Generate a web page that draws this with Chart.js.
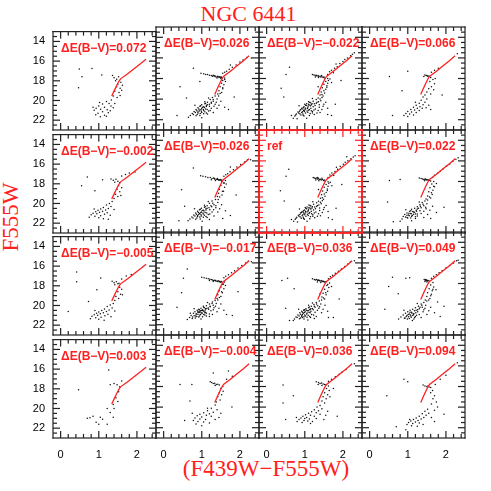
<!DOCTYPE html>
<html>
<head>
<meta charset="utf-8">
<script src="https://cdn.jsdelivr.net/npm/chart.js@4.4.0/dist/chart.umd.min.js"></script>
<style>
  body { margin: 0; background: #fff; width: 491px; height: 491px; position: relative; overflow: hidden; }
  canvas { position: absolute; }
  .t { position: absolute; color: #ff2020; font-family: "Liberation Serif", "Times New Roman", serif; white-space: nowrap; }
</style>
</head>
<body>
<div class="t" style="left:0;width:497px;top:3px;font-size:22px;line-height:22px;text-align:center">NGC 6441</div>
<div class="t" style="left:0;width:532px;top:457px;font-size:23px;line-height:23px;text-align:center">(F439W&minus;F555W)</div>
<div class="t" style="left:10px;top:217px;font-size:23px;line-height:23px;transform:translate(-50%,-50%) rotate(-90deg)">F555W</div>
<script>
// panel labels, row by row
const panelLabels = [
  'ΔE(B−V)=0.072', 'ΔE(B−V)=0.026', 'ΔE(B−V)=−0.022', 'ΔE(B−V)=0.066',
  'ΔE(B−V)=−0.002', 'ΔE(B−V)=0.026', 'ref', 'ΔE(B−V)=0.022',
  'ΔE(B−V)=−0.005', 'ΔE(B−V)=−0.017', 'ΔE(B−V)=0.036', 'ΔE(B−V)=0.049',
  'ΔE(B−V)=0.003', 'ΔE(B−V)=−0.004', 'ΔE(B−V)=0.036', 'ΔE(B−V)=0.094'
];
const yTickLabels = [14, 16, 18, 20, 22];
const xTickLabels = [0, 1, 2];

// red fiducial line (colour, magnitude)
const fidColor = [1.34, 1.40, 1.46, 1.52, 1.57, 1.75, 1.95, 2.10, 2.24];
const fidMag   = [19.55, 19.05, 18.55, 18.10, 17.80, 17.30, 16.70, 16.25, 15.80];

// stars per panel: [F439W-F555W, F555W]
const starsR1C1 = [[0.49,16.8],[0.82,16.75],[0.56,17.6],[0.47,18.7],[1.08,17.4],
  [1.36,17.45],[1.4,17.7],[1.47,17.85],[1.52,17.6],[1.44,18.0],[1.58,18.15],[1.5,18.35],[1.62,18.45],[1.47,18.6],[1.56,18.75],[1.42,19.05],[1.53,19.2],[1.6,18.95],[1.38,19.55],[1.48,19.7],[1.33,19.95],[1.56,19.5],
  [1.2,20.1],[1.27,20.3],[1.1,20.35],[1.32,20.55],[1.0,20.55],[1.15,20.7],[0.93,20.8],[1.05,20.9],[1.22,20.95],[1.3,21.05],[0.88,21.0],[1.1,21.15],[0.98,21.3],[1.25,21.25],[0.92,21.45],[1.15,21.5],[1.38,20.75],[1.42,20.3],[1.04,21.65],[1.2,21.6],[0.85,20.7],[1.02,20.2]];
const starsR1C2 = [[0.78,17.0],[0.43,18.8],[0.6,19.9],[1.75,16.7],[2.3,16.0],[0.95,18.3],[1.85,19.8],[0.35,21.6],[1.7,21.0],
  [0.98,17.5],[1.05,17.55],[1.1,17.6],[1.15,17.6],[1.2,17.68],[1.25,17.72],[1.28,17.78],[1.32,17.75],[1.35,17.8],[1.38,17.85],[1.42,17.82],[1.45,17.88],[1.48,17.9],[1.5,17.85],[1.53,17.92],[1.4,17.95],[1.3,17.68],
  [1.55,17.5],[1.6,17.4],[1.65,17.3],[1.72,17.1],[1.8,16.9],[1.9,16.7],[2.0,16.4],[2.08,16.2],[2.18,15.95],[1.6,17.95],[1.55,18.2],[1.52,18.45],[1.58,18.6],[1.48,18.8],[1.55,19.0],[1.45,19.2],[1.52,19.35],[1.42,19.5],[1.62,18.3],[1.5,18.0],
  [1.35,19.7],[1.28,19.85],[1.4,20.0],[1.22,20.05],[1.3,20.2],[1.15,20.3],[1.25,20.4],[1.08,20.45],[1.35,20.5],[1.0,20.55],[1.12,20.6],[1.2,20.7],[0.95,20.7],[1.05,20.75],[0.9,20.85],[1.0,20.9],[1.1,20.95],[1.25,20.9],[0.85,21.0],[0.95,21.05],[1.05,21.1],[1.18,21.15],[0.8,21.2],[0.9,21.25],[1.0,21.3],[1.12,21.35],[0.75,21.4],[0.88,21.5],[1.3,21.3],[0.7,21.6],[0.95,21.6],[1.45,20.6],[1.5,20.2],[1.4,20.9],[0.82,20.6],[1.18,19.9],[1.6,20.8],[0.65,21.75],[1.0,21.8],[1.08,20.25],
  [0.97,20.65],[1.02,20.78],[1.07,20.82],[1.12,20.72],[0.92,20.95],[0.98,21.0],[1.04,21.02],[1.14,21.0],[0.87,21.12],[0.93,21.15],[0.99,21.18],[1.08,21.22],[0.83,21.3],[0.9,21.35],[0.96,21.4],[1.05,21.42],[1.2,20.5],[1.25,20.3],[1.3,20.05],[1.15,20.55],[1.1,20.4],[0.78,21.5],[0.85,21.62],[1.15,21.45],[1.22,21.1],[1.32,20.7],[1.38,20.3],[1.44,19.7],[1.48,19.45],[1.55,18.9],[1.6,18.1],[1.42,17.78],[1.46,17.83],[1.51,17.88],[1.34,17.74]];
const starsR1C3 = [[0.51,17.6],[0.38,18.95],[0.65,21.6],[0.6,16.9],[0.45,19.8],[2.3,15.5],[1.95,18.2],[1.8,20.5],[1.7,21.6],
  [1.2,17.6],[1.24,17.65],[1.27,17.7],[1.3,17.68],[1.32,17.75],[1.35,17.72],[1.37,17.8],[1.4,17.78],[1.42,17.85],[1.45,17.82],[1.48,17.9],[1.5,17.86],[1.28,17.85],[1.36,17.9],[1.44,17.7],[1.52,17.95],
  [1.6,17.6],[1.65,17.35],[1.7,17.2],[1.78,17.0],[1.85,16.85],[1.82,16.6],[1.92,16.55],[2.0,16.35],[2.05,16.15],[2.12,16.0],[2.2,15.8],[2.25,15.65],[1.75,17.45],[1.6,18.0],[1.55,18.3],[1.62,18.2],[1.5,18.55],[1.58,18.7],[1.46,18.9],[1.55,19.05],[1.43,19.3],[1.52,19.4],[1.4,19.6],[1.48,19.7],[1.7,18.4],[1.35,18.8],
  [1.35,19.9],[1.3,20.05],[1.42,20.15],[1.22,20.2],[1.32,20.3],[1.15,20.35],[1.25,20.45],[1.1,20.5],[1.38,20.55],[1.02,20.6],[1.15,20.65],[1.22,20.75],[0.98,20.75],[1.08,20.8],[0.92,20.9],[1.02,20.95],[1.12,21.0],[1.28,20.95],[0.88,21.05],[0.97,21.1],[1.06,21.15],[1.2,21.2],[0.82,21.25],[0.92,21.3],[1.02,21.35],[1.14,21.4],[0.78,21.45],[0.9,21.55],[1.32,21.35],[0.74,21.65],[0.98,21.65],[1.48,20.7],[1.55,20.3],[1.45,21.0],[0.85,20.65],[1.2,19.95],[1.6,20.9],[0.7,21.85],[1.05,21.85],[1.1,20.25],[1.18,20.55],[1.05,20.45],[0.95,21.45],[1.25,21.5],[1.4,21.3],[0.8,21.9],[1.6,21.5],
  [1.0,20.5],[1.04,20.62],[1.09,20.68],[1.13,20.58],[0.96,20.82],[1.01,20.86],[1.07,20.92],[1.16,20.88],[0.9,21.0],[0.95,20.97],[1.0,21.05],[1.1,21.08],[1.17,21.12],[0.86,21.18],[0.94,21.22],[0.99,21.2],[1.08,21.27],[1.24,21.05],[1.27,20.62],[1.3,20.4],[1.36,20.25],[1.4,20.0],[1.45,19.85],[1.19,20.42],[1.13,20.3],[0.84,21.35],[0.87,21.42],[0.96,21.57],[1.12,21.6],[1.2,21.35],[0.76,21.55],[1.35,21.1],[1.5,20.5],[1.38,20.8],[1.45,19.55],[1.5,19.2],[1.58,18.85],[1.6,18.45],[1.66,18.05]];
const starsR1C4 = [[0.52,17.8],[0.6,21.6],[0.85,19.2],[1.0,17.3],[2.3,15.6],[1.9,19.6],
  [1.45,17.65],[1.48,17.72],[1.5,17.7],[1.52,17.78],[1.55,17.75],[1.42,17.8],
  [1.62,17.4],[1.7,17.2],[1.8,17.0],[1.6,17.9],[1.66,18.1],[1.58,18.3],[1.7,18.5],[1.62,18.8],[1.55,19.0],[1.68,19.1],[1.5,19.3],[1.6,19.5],[1.72,18.0],[1.45,19.6],
  [1.4,19.8],[1.5,20.0],[1.35,20.1],[1.45,20.3],[1.3,20.4],[1.4,20.55],[1.22,20.6],[1.32,20.75],[1.15,20.8],[1.25,20.9],[1.08,21.0],[1.18,21.05],[1.3,21.1],[1.0,21.2],[1.1,21.25],[1.22,21.3],[0.95,21.4],[1.05,21.45],[1.15,21.55],[0.9,21.6],[1.38,20.9],[1.55,20.6],[1.6,21.0],[1.48,20.85],[1.2,20.3],[1.0,21.7]];
const starsR2C1 = [[0.70,17.3],[0.9,18.7],[0.55,18.2],[1.1,17.6],
  [1.32,17.5],[1.38,17.65],[1.45,17.55],[1.5,17.75],[1.42,17.85],[1.55,17.9],[1.6,17.2],[1.7,17.05],[1.8,16.9],[1.95,16.8],[1.52,18.2],[1.6,18.4],[1.48,18.55],[1.55,18.8],[1.44,19.05],[1.5,19.3],[1.4,19.5],[1.58,19.2],
  [1.35,19.8],[1.28,20.0],[1.2,20.15],[1.32,20.3],[1.12,20.4],[1.25,20.5],[1.05,20.55],[1.18,20.65],[0.98,20.7],[1.1,20.8],[0.92,20.85],[1.02,20.9],[1.22,20.95],[0.85,21.0],[0.95,21.05],[1.15,21.1],[0.8,21.15],[1.05,21.25],[0.9,21.3],[1.3,21.2],[0.75,21.4],[1.0,21.45],[1.12,21.55],[1.4,20.6],[0.88,20.55],[1.25,21.6]];
const starsR2C2 = [[0.47,18.8],[0.78,16.7],[1.75,16.6],[0.55,20.4],[2.28,15.9],[1.9,19.3],[0.4,21.8],[1.75,21.3],
  [0.97,17.45],[1.03,17.5],[1.1,17.55],[1.16,17.6],[1.22,17.62],[1.27,17.7],[1.31,17.66],[1.34,17.75],[1.38,17.78],[1.41,17.72],[1.44,17.82],[1.47,17.85],[1.5,17.8],[1.53,17.88],[1.36,17.9],[1.25,17.82],
  [1.58,17.5],[1.63,17.35],[1.68,17.25],[1.74,17.05],[1.83,16.85],[1.92,16.6],[2.02,16.35],[2.12,16.1],[2.2,15.9],[1.62,17.9],[1.57,18.15],[1.5,18.4],[1.6,18.55],[1.46,18.75],[1.57,18.95],[1.44,19.15],[1.53,19.3],[1.41,19.45],[1.64,18.25],[1.52,17.98],
  [1.36,19.75],[1.27,19.9],[1.42,20.05],[1.2,20.1],[1.32,20.25],[1.14,20.35],[1.26,20.45],[1.07,20.5],[1.37,20.55],[0.99,20.6],[1.11,20.65],[1.21,20.75],[0.94,20.75],[1.04,20.8],[0.89,20.9],[0.99,20.95],[1.09,21.0],[1.27,20.95],[0.84,21.05],[0.94,21.1],[1.04,21.15],[1.17,21.2],[0.79,21.25],[0.89,21.3],[0.99,21.35],[1.11,21.4],[0.74,21.45],[0.87,21.55],[1.32,21.35],[0.69,21.65],[0.96,21.65],[1.47,20.65],[1.52,20.25],[1.42,20.95],[0.81,20.65],[1.17,19.95],[1.62,20.85],[0.64,21.8],[1.01,21.85],[1.07,20.3],[1.55,21.6],[1.2,21.7],
  [0.96,20.7],[1.01,20.82],[1.06,20.86],[1.11,20.77],[0.91,21.0],[0.97,21.04],[1.03,21.07],[1.13,21.05],[0.86,21.17],[0.92,21.2],[0.98,21.23],[1.07,21.27],[0.82,21.35],[0.89,21.4],[0.95,21.45],[1.04,21.47],[1.19,20.55],[1.24,20.35],[1.29,20.1],[1.14,20.6],[1.09,20.45],[0.77,21.55],[0.84,21.67],[1.14,21.5],[1.21,21.15],[1.31,20.75],[1.37,20.35],[1.43,19.75],[1.47,19.5],[1.54,18.95],[1.59,18.15],[1.41,17.8],[1.45,17.85],[1.49,17.86],[1.33,17.72]];
const starsR2C3 = [[0.51,17.5],[0.36,18.9],[0.65,21.7],[0.58,16.8],[0.46,19.9],[2.32,15.5],[1.97,18.3],[1.82,20.6],[1.72,21.7],[2.1,15.6],
  [1.22,17.62],[1.25,17.66],[1.28,17.72],[1.31,17.67],[1.33,17.76],[1.36,17.71],[1.38,17.81],[1.41,17.77],[1.43,17.86],[1.46,17.81],[1.49,17.91],[1.51,17.85],[1.29,17.86],[1.37,17.92],[1.45,17.69],[1.53,17.96],[1.34,17.6],
  [1.61,17.6],[1.66,17.36],[1.71,17.18],[1.79,17.02],[1.86,16.82],[1.83,16.62],[1.93,16.52],[2.01,16.33],[2.06,16.13],[2.13,15.98],[2.21,15.78],[2.27,15.62],[1.76,17.42],[1.61,18.02],[1.56,18.28],[1.63,18.18],[1.51,18.57],[1.59,18.72],[1.47,18.92],[1.56,19.07],[1.44,19.28],[1.53,19.42],[1.41,19.62],[1.49,19.72],[1.71,18.42],[1.36,18.78],
  [1.36,19.92],[1.31,20.07],[1.43,20.17],[1.23,20.22],[1.33,20.32],[1.16,20.37],[1.26,20.47],[1.11,20.52],[1.39,20.57],[1.03,20.62],[1.16,20.67],[1.23,20.77],[0.99,20.77],[1.09,20.82],[0.93,20.92],[1.03,20.97],[1.13,21.02],[1.29,20.97],[0.89,21.07],[0.98,21.12],[1.07,21.17],[1.21,21.22],[0.83,21.27],[0.93,21.32],[1.03,21.37],[1.15,21.42],[0.79,21.47],[0.91,21.57],[1.33,21.37],[0.75,21.67],[0.99,21.67],[1.49,20.72],[1.56,20.32],[1.46,21.02],[0.86,20.67],[1.21,19.97],[1.61,20.92],[0.71,21.87],[1.06,21.87],[1.11,20.27],[1.19,20.57],[1.06,20.47],[0.96,21.47],[1.26,21.52],[1.41,21.32],[0.81,21.92],[1.62,21.52],
  [1.01,20.52],[1.05,20.64],[1.1,20.7],[1.14,20.6],[0.97,20.84],[1.02,20.88],[1.08,20.94],[1.17,20.9],[0.91,21.02],[0.96,20.99],[1.01,21.07],[1.11,21.1],[1.18,21.14],[0.87,21.2],[0.95,21.24],[1.0,21.22],[1.09,21.29],[1.25,21.07],[1.28,20.64],[1.31,20.42],[1.37,20.27],[1.41,20.02],[1.46,19.87],[1.2,20.44],[1.14,20.32],[0.85,21.37],[0.88,21.44],[0.97,21.59],[1.13,21.62],[1.21,21.37],[0.77,21.57],[1.36,21.12],[1.51,20.52],[1.39,20.82],[1.46,19.57],[1.51,19.22],[1.59,18.87],[1.61,18.47],[1.67,18.07]];
const starsR2C4 = [[0.52,17.9],[0.47,20.0],[0.8,17.8],[2.32,15.7],[1.95,20.5],[0.62,21.9],
  [1.35,17.7],[1.39,17.75],[1.42,17.8],[1.45,17.78],[1.48,17.85],[1.51,17.82],[1.54,17.9],[1.57,17.88],[1.6,17.95],[1.44,17.92],[1.3,17.65],
  [1.65,17.6],[1.7,17.4],[1.78,17.2],[1.85,17.0],[1.92,16.8],[2.02,16.5],[2.1,16.3],[2.18,16.05],[2.26,15.85],[1.68,18.0],[1.63,18.25],[1.7,18.5],[1.58,18.6],[1.66,18.85],[1.55,19.0],[1.64,19.25],[1.52,19.4],[1.6,19.6],[1.75,18.2],[1.48,19.7],
  [1.45,19.9],[1.38,20.05],[1.5,20.15],[1.32,20.25],[1.42,20.35],[1.25,20.45],[1.35,20.55],[1.18,20.6],[1.48,20.65],[1.1,20.7],[1.22,20.8],[1.32,20.85],[1.05,20.9],[1.15,20.95],[0.98,21.05],[1.08,21.1],[1.2,21.15],[1.35,21.1],[0.92,21.2],[1.02,21.25],[1.12,21.3],[1.25,21.35],[0.88,21.4],[0.98,21.5],[1.08,21.55],[1.2,21.6],[0.85,21.65],[1.58,20.8],[1.65,20.4],[1.52,21.2],[0.95,20.75],[1.3,20.0],[1.75,21.0],[0.8,21.85],[1.1,21.8],[1.6,21.6],[1.42,21.5],
  [1.08,20.85],[1.13,20.92],[1.18,20.98],[1.23,20.9],[1.03,21.08],[1.09,21.12],[1.15,21.18],[1.25,21.15],[0.98,21.28],[1.04,21.32],[1.1,21.38],[1.2,21.42],[0.94,21.45],[1.0,21.55],[1.28,20.6],[1.33,20.4],[1.4,20.2],[1.25,20.68],[1.42,20.9],[1.47,20.5],[1.52,19.8],[1.57,19.5],[1.62,19.1],[1.68,18.45],[1.5,17.8],[1.55,17.85],[1.46,17.75]];
const starsR3C1 = [[0.42,16.6],[0.42,17.6],[0.2,20.6],[0.73,19.6],[1.05,17.2],[0.95,18.4],
  [1.35,17.55],[1.4,17.7],[1.46,17.6],[1.5,17.8],[1.53,17.75],[1.42,17.9],[1.6,17.3],[1.72,17.0],[1.85,16.85],[1.55,18.15],[1.6,18.35],[1.5,18.6],[1.57,18.85],[1.45,19.1],[1.52,19.3],[1.42,19.5],[1.62,18.9],
  [1.38,19.8],[1.3,19.95],[1.22,20.1],[1.35,20.25],[1.15,20.35],[1.27,20.45],[1.08,20.5],[1.2,20.6],[1.0,20.65],[1.12,20.75],[0.94,20.8],[1.04,20.85],[1.24,20.9],[0.88,20.95],[0.97,21.0],[1.16,21.05],[0.82,21.1],[1.06,21.2],[0.92,21.25],[1.32,21.15],[0.78,21.35],[1.0,21.4],[1.14,21.5],[1.42,20.55],[0.9,20.5]];
const starsR3C2 = [[0.52,17.5],[0.47,18.9],[1.8,21.1],[0.35,20.3],[2.3,15.9],[0.62,16.6],[1.95,18.8],
  [1.0,17.4],[1.06,17.45],[1.12,17.5],[1.17,17.55],[1.21,17.58],[1.25,17.62],[1.28,17.66],[1.31,17.7],[1.34,17.68],[1.37,17.75],[1.4,17.78],[1.43,17.74],[1.46,17.82],[1.49,17.85],[1.52,17.8],[1.3,17.8],[1.2,17.7],
  [1.58,17.45],[1.63,17.3],[1.7,17.15],[1.78,16.95],[1.86,16.75],[1.95,16.5],[2.05,16.25],[2.15,16.0],[2.22,15.85],[1.6,17.85],[1.55,18.1],[1.5,18.35],[1.58,18.5],[1.46,18.7],[1.54,18.9],[1.42,19.1],[1.5,19.25],[1.4,19.45],[1.62,18.2],
  [1.35,19.65],[1.28,19.8],[1.38,19.95],[1.2,20.0],[1.3,20.1],[1.12,20.15],[1.22,20.25],[1.05,20.3],[1.32,20.35],[0.98,20.4],[1.1,20.45],[1.18,20.5],[0.92,20.5],[1.02,20.55],[0.88,20.6],[0.96,20.65],[1.06,20.7],[1.24,20.65],[0.82,20.75],[0.92,20.8],[1.0,20.85],[1.12,20.9],[0.78,20.9],[0.86,20.95],[0.96,21.0],[1.08,21.05],[0.72,21.1],[0.84,21.15],[1.28,21.0],[0.68,21.3],[0.92,21.25],[1.45,20.4],[1.5,20.0],[1.4,20.75],[0.8,20.45],[1.15,19.85],[1.58,20.6],[0.62,21.5],[0.98,21.45],[1.04,20.2],[0.95,20.75],[1.02,20.6],[0.9,20.7],[1.08,20.85],[0.75,21.4],[1.2,21.2],[1.65,21.0],[0.7,20.9],
  [0.94,20.55],[0.99,20.62],[1.04,20.66],[1.09,20.58],[0.9,20.78],[0.95,20.82],[1.01,20.88],[1.1,20.8],[0.85,20.95],[0.9,20.98],[0.97,21.02],[1.05,21.0],[0.8,21.12],[0.87,21.2],[0.94,21.15],[1.02,21.22],[1.17,20.38],[1.22,20.2],[1.27,19.95],[1.13,20.42],[1.07,20.35],[0.76,21.25],[0.83,21.35],[1.12,21.15],[1.2,20.95],[1.3,20.55],[1.36,20.2],[1.42,19.6],[1.46,19.35],[1.52,18.8],[1.57,18.05],[1.42,17.8],[1.47,17.78],[1.36,17.72],[1.5,17.88]];
const starsR3C3 = [[0.55,17.5],[0.4,17.7],[0.72,18.5],[0.5,20.4],[2.3,15.8],[1.9,19.5],[1.75,21.3],[0.6,21.6],
  [1.25,17.6],[1.28,17.65],[1.31,17.62],[1.34,17.7],[1.37,17.68],[1.4,17.75],[1.43,17.72],[1.46,17.8],[1.49,17.78],[1.52,17.85],[1.55,17.82],[1.33,17.85],[1.42,17.9],[1.2,17.55],
  [1.62,17.55],[1.67,17.35],[1.73,17.2],[1.8,17.0],[1.88,16.8],[1.96,16.6],[2.05,16.35],[2.13,16.1],[2.2,15.9],[1.65,17.95],[1.58,18.2],[1.63,18.4],[1.52,18.55],[1.6,18.75],[1.48,18.95],[1.56,19.1],[1.45,19.3],[1.52,19.5],[1.7,18.3],[1.4,19.0],
  [1.38,19.7],[1.3,19.85],[1.42,20.0],[1.24,20.05],[1.34,20.15],[1.17,20.2],[1.27,20.3],[1.1,20.35],[1.37,20.4],[1.03,20.45],[1.14,20.5],[1.22,20.55],[0.97,20.6],[1.07,20.65],[0.92,20.7],[1.01,20.75],[1.11,20.8],[1.27,20.8],[0.87,20.85],[0.96,20.9],[1.05,20.95],[1.18,21.0],[0.82,21.05],[0.92,21.1],[1.02,21.15],[1.13,21.2],[0.77,21.25],[0.89,21.35],[1.3,21.2],[0.73,21.45],[0.98,21.45],[1.48,20.5],[1.53,20.1],[1.44,20.85],[0.84,20.5],[1.2,19.9],[1.6,20.7],[0.7,21.6],[1.08,21.55],[1.1,20.1],[1.0,20.55],[1.16,20.7],[0.94,21.3],[1.25,21.4],[1.62,21.3],
  [0.99,20.55],[1.04,20.6],[1.09,20.62],[1.13,20.55],[0.94,20.78],[0.99,20.82],[1.06,20.86],[1.14,20.85],[0.89,20.98],[0.94,21.02],[1.0,21.06],[1.09,21.08],[0.85,21.15],[0.92,21.2],[0.98,21.22],[1.06,21.28],[1.2,20.42],[1.25,20.22],[1.31,20.0],[1.16,20.45],[1.12,20.28],[0.8,21.3],[0.86,21.42],[1.15,21.3],[1.23,21.05],[1.33,20.6],[1.39,20.25],[1.44,19.6],[1.49,19.4],[1.55,18.9],[1.6,18.1],[1.45,17.75],[1.5,17.82],[1.38,17.72],[1.35,17.65]];
const starsR3C4 = [[0.6,17.4],[0.95,17.5],[1.05,17.45],[0.5,18.3],[0.4,20.5],[2.32,15.75],[1.95,20.2],[1.85,21.2],[0.75,19.0],
  [1.43,17.6],[1.46,17.68],[1.49,17.65],[1.52,17.75],[1.55,17.72],[1.5,17.85],[1.45,17.8],
  [1.62,17.5],[1.68,17.3],[1.75,17.15],[1.82,16.95],[1.9,16.75],[2.0,16.5],[2.1,16.25],[2.2,16.0],[2.28,15.8],[1.66,17.9],[1.6,18.15],[1.68,18.35],[1.56,18.5],[1.64,18.7],[1.52,18.9],[1.62,19.05],[1.5,19.25],[1.58,19.45],[1.74,18.6],[1.46,19.6],
  [1.42,19.85],[1.35,20.0],[1.47,20.1],[1.28,20.2],[1.38,20.3],[1.2,20.35],[1.3,20.45],[1.13,20.5],[1.42,20.55],[1.06,20.6],[1.18,20.65],[1.26,20.75],[1.0,20.75],[1.1,20.8],[0.94,20.9],[1.04,20.95],[1.15,21.0],[1.3,21.0],[0.88,21.05],[0.98,21.1],[1.08,21.15],[1.2,21.2],[0.82,21.25],[0.93,21.35],[1.04,21.4],[1.16,21.45],[0.76,21.45],[1.55,20.65],[1.6,20.3],[1.5,21.0],[0.9,20.6],[1.25,19.95],[1.7,20.85],[1.12,21.6],[1.78,19.8],[1.35,21.3],
  [1.06,20.8],[1.11,20.88],[1.16,20.92],[1.21,20.85],[1.01,21.02],[1.07,21.06],[1.13,21.1],[1.23,21.08],[0.96,21.2],[1.02,21.24],[1.09,21.28],[1.18,21.3],[0.91,21.38],[0.99,21.45],[1.26,20.55],[1.32,20.3],[1.37,20.1],[1.22,20.6],[1.4,20.75],[1.45,20.4],[1.5,19.7],[1.55,19.6],[1.6,19.2],[1.66,18.55],[1.48,17.7],[1.51,17.7],[1.47,17.62]];
const starsR4C1 = [[0.47,18.1],[1.26,16.1],[1.3,17.6],[1.48,17.6],[1.4,17.45],[1.55,17.8],[1.6,17.2],[1.52,18.3],[1.45,18.9],[1.5,19.3],[1.38,19.6],[1.4,20.0],[1.22,20.0],[1.04,20.9],[0.77,20.95],[0.93,21.4],[1.22,21.6],[1.38,20.9],[0.85,20.8],[1.1,21.1],[1.3,20.4],[1.0,21.6],[0.7,21.0]];
const starsR4C2 = [[0.43,17.8],[0.74,17.8],[0.69,19.4],[1.3,16.7],[1.7,16.5],[1.79,20.0],[0.55,21.3],
  [1.26,17.6],[1.3,17.7],[1.34,17.68],[1.38,17.8],[1.42,17.78],[1.46,17.85],[1.35,17.9],[1.22,17.55],
  [1.55,18.0],[1.5,18.2],[1.56,18.45],[1.46,18.6],[1.52,18.8],[1.42,19.0],[1.48,19.3],[1.38,19.5],[1.65,17.3],[1.8,17.0],
  [1.35,19.8],[1.25,20.1],[1.4,20.25],[1.15,20.35],[1.3,20.5],[1.05,20.55],[1.2,20.65],[0.95,20.7],[1.12,20.8],[0.88,20.85],[1.0,20.95],[1.25,20.9],[0.82,21.05],[0.95,21.15],[1.1,21.2],[0.78,21.3],[0.9,21.4],[1.05,21.45],[1.35,21.2],[0.85,21.65],[1.2,21.55],[1.5,20.6],[1.45,21.0],[1.0,21.8],[0.75,20.6],[1.15,20.1]];
const starsR4C3 = [[0.43,17.85],[0.43,19.6],[0.7,18.9],[2.3,15.8],[1.85,20.9],[0.5,21.2],
  [1.3,17.55],[1.36,17.6],[1.4,17.7],[1.44,17.65],[1.48,17.75],[1.52,17.8],[1.55,17.85],[1.45,17.9],[1.35,17.8],
  [1.62,17.5],[1.7,17.3],[1.8,17.05],[1.9,16.8],[1.98,16.6],[2.08,16.35],[1.62,17.95],[1.57,18.2],[1.64,18.4],[1.52,18.6],[1.6,18.8],[1.48,19.0],[1.56,19.2],[1.45,19.4],[1.52,19.6],[1.66,19.0],[1.75,18.2],
  [1.4,19.85],[1.32,20.0],[1.45,20.15],[1.25,20.25],[1.36,20.35],[1.18,20.45],[1.3,20.55],[1.1,20.6],[1.4,20.7],[1.02,20.75],[1.15,20.8],[1.25,20.9],[0.95,20.9],[1.05,21.0],[0.9,21.05],[1.0,21.1],[1.12,21.15],[1.3,21.1],[0.85,21.2],[0.98,21.3],[1.08,21.35],[1.2,21.4],[0.8,21.4],[0.93,21.5],[1.55,20.8],[1.6,20.4],[1.5,21.2],[1.15,21.6],[0.78,21.0]];
const starsR4C4 = [[0.45,18.9],[0.9,17.3],[1.0,17.55],[2.3,15.7],[0.7,21.9],[1.95,20.7],[0.95,22.2],
  [1.45,17.95],[1.5,18.0],[1.53,17.95],[1.56,18.05],[1.4,17.85],[1.6,18.1],
  [1.6,18.6],[1.7,18.9],[1.66,19.2],[1.75,19.5],[1.62,19.7],[1.78,20.0],[1.7,20.3],[1.65,18.4],[1.72,17.8],[1.85,17.3],[2.0,16.9],
  [1.52,20.2],[1.45,20.4],[1.55,20.6],[1.38,20.65],[1.48,20.8],[1.3,20.9],[1.42,21.0],[1.22,21.05],[1.35,21.15],[1.15,21.2],[1.27,21.3],[1.08,21.35],[1.2,21.45],[1.02,21.5],[1.13,21.6],[1.3,21.55],[0.98,21.7],[1.1,21.8],[1.25,21.85],[1.62,21.0],[1.7,21.4],[1.05,21.2],[1.4,21.7]];

const panelStars = [
  starsR1C1, starsR1C2, starsR1C3, starsR1C4,
  starsR2C1, starsR2C2, starsR2C3, starsR2C4,
  starsR3C1, starsR3C2, starsR3C3, starsR3C4,
  starsR4C1, starsR4C2, starsR4C3, starsR4C4
];

const RED = '#ff2020';
const colLeft = [53, 156, 259, 362];
const rowTop = [27, 130, 232, 335];

// frame, inward ticks and the corner label of each panel
const panelDeco = {
  id: 'panelDeco',
  afterDraw(chart, args, opts) {
    const ctx = chart.ctx;
    const a = chart.chartArea;
    const xs = chart.scales.x, ys = chart.scales.y;
    const w = opts.width;
    ctx.save();
    ctx.fillStyle = opts.color;
    // frame
    ctx.fillRect(a.left - w / 2, a.top - w / 2, a.right - a.left + w, w);
    ctx.fillRect(a.left - w / 2, a.bottom - w / 2, a.right - a.left + w, w);
    ctx.fillRect(a.left - w / 2, a.top - w / 2, w, a.bottom - a.top + w);
    ctx.fillRect(a.right - w / 2, a.top - w / 2, w, a.bottom - a.top + w);
    // ticks pointing inwards
    for (let k = 27; k <= 45; k++) {
      const v = k / 2;
      const len = yTickLabels.includes(v) ? 7 : 4;
      const p = ys.getPixelForValue(v);
      ctx.fillRect(a.left, p - 0.6, len, 1.2);
      ctx.fillRect(a.right - len, p - 0.6, len, 1.2);
    }
    for (let k = 0; k <= 12; k++) {
      const len = k % 5 === 0 ? 7 : 4;
      const p = xs.getPixelForValue(k / 5);
      ctx.fillRect(p - 0.6, a.bottom - len, 1.2, len);
      ctx.fillRect(p - 0.6, a.top, 1.2, len);
    }
    ctx.fillStyle = RED;
    ctx.font = 'bold 12px "Liberation Sans", Arial, sans-serif';
    ctx.textBaseline = 'alphabetic';
    ctx.fillText(opts.label, a.left + 8, a.top + 20);
    ctx.restore();
  }
};

const tickFont = {family: '"Liberation Sans", Arial, sans-serif', size: 11};

panelStars.forEach((stars, i) => {
  const r = Math.floor(i / 4), c = i % 4;
  const isRef = panelLabels[i] === 'ref';
  const cv = document.createElement('canvas');
  cv.width = 153; cv.height = 143;
  cv.style.left = (colLeft[c] - 40) + 'px';
  cv.style.top = (rowTop[r] - 10) + 'px';
  cv.style.zIndex = isRef ? 2 : 1;
  document.body.appendChild(cv);

  new Chart(cv.getContext('2d'), {
    type: 'scatter',
    data: {
      datasets: [
        {
          data: fidColor.map((v, k) => ({x: v, y: fidMag[k]})),
          showLine: true, borderColor: RED, borderWidth: 1.3,
          pointRadius: 0, tension: 0
        },
        {
          data: stars.map(([v, m]) => ({x: v, y: m})),
          pointRadius: 0.75, pointBorderWidth: 0,
          pointBackgroundColor: '#111'
        }
      ]
    },
    options: {
      responsive: false,
      animation: false,
      events: [],
      layout: {padding: {top: 10, right: 10, left: 0, bottom: 0}},
      plugins: {
        legend: {display: false},
        tooltip: {enabled: false},
        panelDeco: {color: isRef ? RED : '#222', width: isRef ? 1.8 : 1.2, label: panelLabels[i]}
      },
      scales: {
        x: {
          type: 'linear', min: -0.2, max: 2.5,
          afterFit: s => { s.height = 30; },
          afterBuildTicks: s => { s.ticks = xTickLabels.map(v => ({value: v})); },
          grid: {display: false, drawTicks: false},
          border: {display: false},
          ticks: {display: r === 3, autoSkip: false, padding: 10, color: '#000', font: tickFont}
        },
        y: {
          type: 'linear', min: 13, max: 23, reverse: true,
          afterFit: s => { s.width = 40; },
          afterBuildTicks: s => { s.ticks = yTickLabels.map(v => ({value: v})); },
          grid: {display: false, drawTicks: false},
          border: {display: false},
          ticks: {display: c === 0, autoSkip: false, padding: 8, color: '#000', font: tickFont}
        }
      }
    },
    plugins: [panelDeco]
  });
});
</script>
</body>
</html>
